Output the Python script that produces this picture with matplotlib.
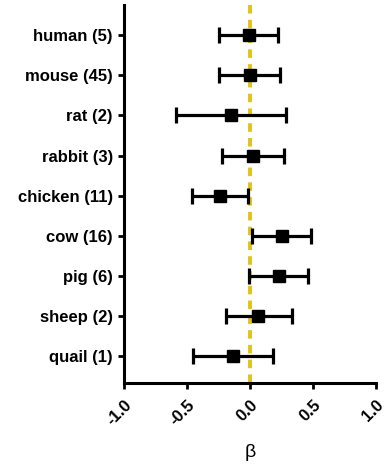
import numpy as np
import matplotlib
matplotlib.use('Agg')
from matplotlib import pyplot as plt

plt.rcParams['font.family'] = ['Liberation Sans', 'DejaVu Sans']

# species labels (top to bottom) and estimates with CI
species = ['human (5)', 'mouse (45)', 'rat (2)', 'rabbit (3)', 'chicken (11)',
           'cow (16)', 'pig (6)', 'sheep (2)', 'quail (1)']
beta = [-0.008, 0.0, -0.15, 0.024, -0.238, 0.254, 0.228, 0.063, -0.135]
ci_low = [-0.246, -0.243, -0.59, -0.222, -0.463, 0.013, -0.008, -0.19, -0.452]
ci_high = [0.225, 0.238, 0.288, 0.27, -0.013, 0.487, 0.46, 0.33, 0.183]

x_ticks = [-1.0, -0.5, 0.0, 0.5, 1.0]

fig = plt.figure(figsize=(3.88, 4.66), dpi=100)
ax = fig.add_axes([0.3196, 0.178, 0.6495, 0.811])

y = np.arange(len(species))[::-1]
beta = np.array(beta)
err = [beta - np.array(ci_low), np.array(ci_high) - beta]

ax.axvline(0, color='#e2c21a', linestyle=(0, (2.2, 1.6)), linewidth=2.8, zorder=1)
ax.errorbar(beta, y, xerr=err, fmt='s', color='black', markersize=8,
            elinewidth=2.3, capsize=6, capthick=2.3, zorder=3)

ax.set_xlim(-1.0, 1.0)
ax.set_ylim(-0.67, len(species) - 1 + 0.75)
ax.set_xticks(x_ticks)
ax.set_xticklabels(['%.1f' % v for v in x_ticks], rotation=45, ha='right',
                   rotation_mode='anchor', fontsize=12, fontweight='bold')
ax.set_yticks(y)
ax.set_yticklabels(species, fontsize=12, fontweight='bold')

for s in ['top', 'right']:
    ax.spines[s].set_visible(False)
for s in ['left', 'bottom']:
    ax.spines[s].set_linewidth(2.2)
ax.tick_params(axis='both', width=2, length=4)
ax.tick_params(axis='y', pad=4)
ax.tick_params(axis='x', pad=6)

ax.set_xlabel('β', fontsize=14, labelpad=12)

fig.savefig('out.png', dpi=100)
